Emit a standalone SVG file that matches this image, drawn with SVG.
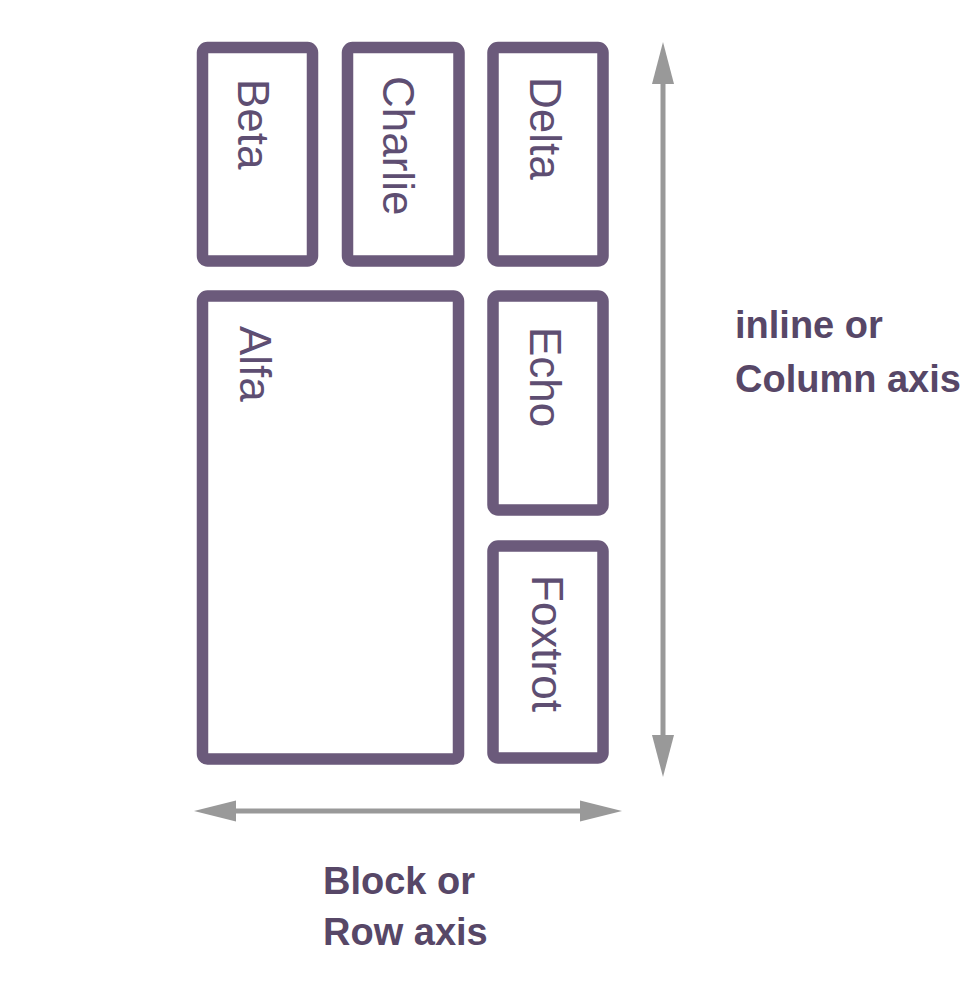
<svg xmlns="http://www.w3.org/2000/svg" width="978" height="1001" viewBox="0 0 978 1001">
<style>
.box{fill:#fff;stroke:#6b5a7b;stroke-width:11.5}
.lbl{font-family:"Liberation Sans",Arial,sans-serif;font-size:44px;fill:#5e4e72}
.axis{font-family:"Liberation Sans",Arial,sans-serif;font-size:38px;font-weight:bold;fill:#574767}
.ax{stroke:#999;stroke-width:5;fill:none}
.head{fill:#999}
</style>
<rect width="978" height="1001" fill="#fff"/>
<g id="beta"><rect class="box" x="202.5" y="47.5" width="110" height="213.5" rx="5"/><text class="lbl" transform="translate(238,79) rotate(90)">Beta</text></g>
<g id="charlie"><rect class="box" x="347.5" y="47.5" width="111.5" height="213.5" rx="5"/><text class="lbl" transform="translate(383,76) rotate(90)">Charlie</text></g>
<g id="delta"><rect class="box" x="493" y="47.5" width="110" height="213.5" rx="5"/><text class="lbl" transform="translate(530,77) rotate(90)">Delta</text></g>
<g id="alfa"><rect class="box" x="202.5" y="296" width="256" height="463" rx="5"/><text class="lbl" transform="translate(240,326) rotate(90)">Alfa</text></g>
<g id="echo"><rect class="box" x="493" y="296" width="110" height="214" rx="5"/><text class="lbl" transform="translate(530,327) rotate(90)">Echo</text></g>
<g id="foxtrot"><rect class="box" x="493" y="546" width="110" height="212" rx="5"/><text class="lbl" transform="translate(532,575) rotate(90)">Foxtrot</text></g>
<g id="connectors">
<line class="ax" x1="663" y1="80" x2="663" y2="740"/>
<polygon class="head" points="663,42 652,84 674,84"/>
<polygon class="head" points="663,777 652,735 674,735"/>
<line class="ax" x1="230" y1="811" x2="585" y2="811"/>
<polygon class="head" points="194,811 236,800.5 236,821.5"/>
<polygon class="head" points="622,811 580,800.5 580,821.5"/>
</g>
<g id="labels">
<text class="axis" x="735" y="338">inline or</text>
<text class="axis" x="735" y="392">Column axis</text>
<text class="axis" x="323" y="894">Block or</text>
<text class="axis" x="323" y="945">Row axis</text>
</g>
</svg>
